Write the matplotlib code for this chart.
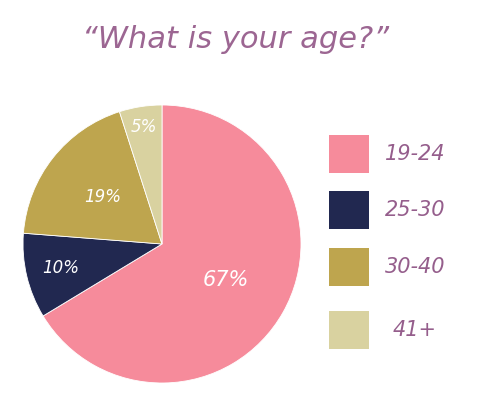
import numpy as np
import matplotlib
matplotlib.use("Agg")
import matplotlib.pyplot as plt
from matplotlib.patches import Rectangle

# data
labels = ["19-24", "25-30", "30-40", "41+"]
shares = [67, 10, 19, 5]
colors = ["#F68B9B", "#212850", "#BEA54E", "#D9D2A0"]
label_r = [0.53, 0.75, 0.54, 0.85]

title_col = "#9C6692"
text_col = "#955E8C"
font = "DejaVu Sans"

fig = plt.figure(figsize=(5, 4.18), dpi=100)
fig.patch.set_facecolor("white")

# pie, placed in pixels: centre (162,244), radius ~139
ax = fig.add_axes([23/500, (418-383)/418, 278/500, 278/418])
wedges, _ = ax.pie(shares, colors=colors, startangle=90, counterclock=False,
                   radius=1, wedgeprops=dict(linewidth=0.6, edgecolor="white"))
ax.set_xlim(-1, 1)
ax.set_ylim(-1, 1)
ax.set_aspect("equal")
ax.axis("off")

for w, s, r in zip(wedges, shares, label_r):
    mid = np.deg2rad((w.theta1 + w.theta2) / 2)
    fs = 15 if s > 50 else 12
    ax.text(r*np.cos(mid), r*np.sin(mid), "%d%%" % s, color="white",
            ha="center", va="center", fontsize=fs, style="italic",
            family=font)

# legend
lax = fig.add_axes([0, 0, 1, 1])
lax.set_xlim(0, 500)
lax.set_ylim(418, 0)
lax.axis("off")
box_top = [135, 191, 248, 311]
for top, lab, c in zip(box_top, labels, colors):
    lax.add_patch(Rectangle((329, top), 40, 38, color=c, lw=0))
    lax.text(415, top + 19, lab, color=text_col, ha="center", va="center",
             fontsize=15, style="italic", family=font)

fig.text(235/500, 1 - 40/418, "\u201cWhat is your age?\u201d", color=title_col,
         ha="center", va="center", fontsize=22, style="italic", family=font)

fig.savefig("out.png", dpi=100)
